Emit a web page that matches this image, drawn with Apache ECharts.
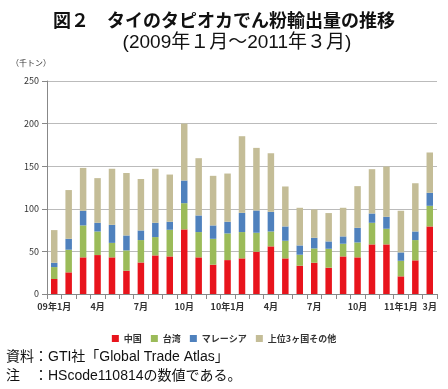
<!DOCTYPE html>
<html><head><meta charset="utf-8">
<script src="https://cdn.jsdelivr.net/npm/echarts@6/dist/echarts.min.js"></script>
<style>html,body{margin:0;padding:0;background:#fff}#c{width:448px;height:389px}</style>
</head><body><div id="c"></div>
<script>
const categories = ['09年1月','2月','3月','4月','5月','6月','7月','8月','9月','10月','11月','12月',
  '10年1月','2月','3月','4月','5月','6月','7月','8月','9月','10月','11月','12月',
  '11年1月','2月','3月'];
const shownLabels = [0,3,6,9,12,15,18,21,24,26];
const china    = [17.6,25.4,43.0,45.7,43.0,27.3,37.0,45.3,44.1,75.8,43.0,34.4,39.8,41.8,49.6,55.9,41.8,33.2,36.7,30.9,44.1,43.0,58.2,58.2,20.7,39.5,79.3];
const taiwan   = [14.0,26.6,37.5,27.7,17.0,23.9,26.3,21.5,31.3,30.8,29.7,30.4,31.3,30.9,22.3,17.5,20.7,12.9,16.8,22.2,14.9,17.5,25.4,18.4,18.3,23.8,24.2];
const malaysia = [5.1,12.8,17.2,10.2,21.2,17.5,11.3,16.8,9.4,26.6,19.5,15.7,13.7,22.6,26.1,23.1,16.8,10.9,12.5,8.6,8.6,17.2,10.9,14.0,9.8,10.1,15.3];
const others   = [38.3,57.2,50.3,52.4,65.8,73.3,60.4,63.4,55.4,66.8,67.2,58.2,56.6,89.9,73.5,68.7,46.9,44.2,33.2,33.3,33.6,48.9,52.0,59.0,48.9,56.6,47.3];
const seriesNames = ['中国','台湾','マレーシア','上位3ヶ国その他'];
const yTicks = {min:0, max:250, interval:50};

const F = '"Noto Sans CJK JP", sans-serif';
const FL = '"Liberation Sans", "Noto Sans CJK JP", sans-serif';
const colors = ['#E8141C','#9BBB59','#4F81BD','#C4BD97'];
const chart = echarts.init(document.getElementById('c'), null, {renderer:'canvas'});
const mk = (name, data, i) => ({
  name, type:'bar', stack:'t', data, barCategoryGap:'55%',
  itemStyle:{color:colors[i]}
});
chart.setOption({
  animation:false,
  color:colors,
  textStyle:{fontFamily:F},
  title:[
    {text:'図２　タイのタピオカでん粉輸出量の推移', left:'center', top:6,
     textStyle:{fontFamily:F, fontSize:18, fontWeight:'bold', color:'#111'}},
    {text:'(2009年１月～2011年３月)', left:232, top:28, textAlign:'center',
     textStyle:{fontFamily:FL, fontSize:19, fontWeight:'normal', color:'#111'}}
  ],
  grid:{left:47, right:11, top:81, bottom:95},
  legend:{data:seriesNames, top:329, left:'center', itemWidth:7, itemHeight:7, itemGap:9,
    icon:'rect', textStyle:{fontFamily:F, fontSize:9, fontWeight:'bold', color:'#333'}},
  xAxis:{type:'category', data:categories,
    axisLine:{lineStyle:{color:'#888'}},
    axisTick:{show:true, interval:0, lineStyle:{color:'#888'}},
    axisLabel:{interval:(i)=>shownLabels.includes(i), fontSize:9, fontWeight:'bold', color:'#333', margin:8, fontFamily:F}
  },
  yAxis:{type:'value', min:yTicks.min, max:yTicks.max, interval:yTicks.interval,
    axisLine:{show:true, lineStyle:{color:'#888'}},
    axisTick:{show:true, lineStyle:{color:'#888'}},
    axisLabel:{fontSize:9, color:'#333', margin:8, fontFamily:F},
    splitLine:{lineStyle:{color:'#bbb', width:1}}
  },
  graphic:[
    {type:'text', left:11, top:59, style:{text:'（千トン）', font:'8px '+F, fill:'#333'}},
    {type:'text', left:6, top:350, style:{text:'資料：GTI社「Global Trade Atlas」', font:'14px '+FL, fill:'#111'}},
    {type:'text', left:6, top:369, style:{text:'注　：HScode110814の数値である。', font:'14px '+FL, fill:'#111'}}
  ],
  series:[mk(seriesNames[0],china,0), mk(seriesNames[1],taiwan,1), mk(seriesNames[2],malaysia,2), mk(seriesNames[3],others,3)]
});
</script></body></html>
